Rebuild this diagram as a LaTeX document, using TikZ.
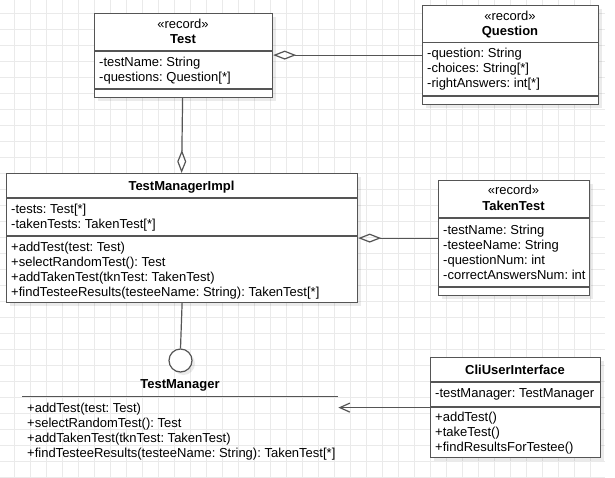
\documentclass[tikz,border=0pt]{standalone}
\usepackage{fontspec}
\setmainfont{Liberation Sans}
\usetikzlibrary{arrows.meta,shadows}
\frenchspacing

\definecolor{edgec}{RGB}{85,85,85}
\definecolor{gridc}{RGB}{234,234,234}

\tikzset{
  umlbox/.style={draw=edgec, line width=1.2pt, fill=white, inner sep=0pt, anchor=north west,
    drop shadow={shadow xshift=3.5pt, shadow yshift=-3.5pt, fill=black, opacity=0.08}},
  sepline/.style={draw=edgec, line width=1.2pt},
  member/.style={anchor=base west, inner sep=0pt, font=\frenchspacing\fontsize{13}{15}\selectfont},
  titletext/.style={anchor=base, inner sep=0pt, font=\bfseries\fontsize{13}{15}\selectfont},
  stereo/.style={anchor=base, inner sep=0pt, font=\fontsize{13}{15}\selectfont},
  conn/.style={draw=edgec, line width=1.2pt},
  agg/.style={conn, -{Diamond[open, length=23pt, width=9pt]}},
  dep/.style={conn, -{Straight Barb[length=10pt, width=9pt]}},
  gridline/.style={draw=gridc, line width=1pt}
}

\begin{document}
\begin{tikzpicture}[x=1pt, y=-1pt]
% background and bounding box
\fill[white] (0,0) rectangle (615,477);
\useasboundingbox (0,0) rectangle (615,477);
% grid
\foreach \gx in {14,30,...,590} \draw[gridline] (\gx,0) -- (\gx,477);
\foreach \gy in {13,29,...,477} \draw[gridline] (0,\gy) -- (605,\gy);

% ---------- Test ----------
\node[umlbox, minimum width=178pt, minimum height=84pt] (test) at (94,13) {};
\draw[sepline] (94,51) -- (272,51);
\draw[sepline] (94,89) -- (272,89);
\node[stereo] (teststereo) at (183,28) {«record»};
\node[titletext] (testtitle) at (183,43) {Test};
\foreach \t [count=\i] in {{-testName: String},{-questions: Question[*]}}
  \node[member] (testattr\i) at (99,{66.5+15*(\i-1)}) {\t};

% ---------- Question ----------
\node[umlbox, minimum width=176pt, minimum height=99pt] (question) at (422,5) {};
\draw[sepline] (422,42.5) -- (598,42.5);
\draw[sepline] (422,96) -- (598,96);
\node[stereo] (qstereo) at (510,20) {«record»};
\node[titletext] (qtitle) at (510,35.5) {Question};
\foreach \t [count=\i] in {{-question: String},{-choices: String[*]},{-rightAnswers: int[*]}}
  \node[member] (qattr\i) at (427,{57.5+15*(\i-1)}) {\t};

% ---------- TestManagerImpl ----------
\node[umlbox, minimum width=351pt, minimum height=129pt] (impl) at (6,173) {};
\draw[sepline] (6,198) -- (357,198);
\draw[sepline] (6,236) -- (357,236);
\node[titletext] (impltitle) at (181.5,190) {TestManagerImpl};
\foreach \t [count=\i] in {{-tests: Test[*]},{-takenTests: TakenTest[*]}}
  \node[member] (implattr\i) at (11,{213+15*(\i-1)}) {\t};
\foreach \t [count=\i] in {{+addTest(test: Test)},{+selectRandomTest(): Test},{+addTakenTest(tknTest: TakenTest)},{+findTesteeResults(testeeName: String): TakenTest[*]}}
  \node[member] (implop\i) at (11,{251.5+15*(\i-1)}) {\t};

% ---------- TakenTest ----------
\node[umlbox, minimum width=151pt, minimum height=115pt] (taken) at (438,180) {};
\draw[sepline] (438,218) -- (589,218);
\draw[sepline] (438,287) -- (589,287);
\node[stereo] (tkstereo) at (513.5,194.5) {«record»};
\node[titletext] (tktitle) at (513.5,210) {TakenTest};
\foreach \t [count=\i] in {{-testName: String},{-testeeName: String},{-questionNum: int},{-correctAnswersNum: int}}
  \node[member] (tkattr\i) at (443,{234+15*(\i-1)}) {\t};

% ---------- TestManager (interface) ----------
\node[inner sep=0pt, minimum width=316pt, minimum height=90pt, anchor=north west] (tm) at (22,372) {};
\node[circle, draw=edgec, line width=1.2pt, fill=white, minimum size=23pt, inner sep=0pt,
  drop shadow={shadow xshift=3pt, shadow yshift=-3pt, fill=black, opacity=0.08}] (tmcirc) at (180.5,360.5) {};
\node[titletext] (tmtitle) at (180,388.5) {TestManager};
\draw[sepline] (22,396.5) -- (338,396.5);
\foreach \t [count=\i] in {{+addTest(test: Test)},{+selectRandomTest(): Test},{+addTakenTest(tknTest: TakenTest)},{+findTesteeResults(testeeName: String): TakenTest[*]}}
  \node[member] (tmop\i) at (27,{412+15*(\i-1)}) {\t};

% ---------- CliUserInterface ----------
\node[umlbox, minimum width=170pt, minimum height=100pt] (cli) at (430,357) {};
\draw[sepline] (430,382) -- (600,382);
\draw[sepline] (430,407) -- (600,407);
\node[titletext] (clititle) at (515,374.5) {CliUserInterface};
\node[member] (cliattr1) at (435,397.5) {-testManager: TestManager};
\foreach \t [count=\i] in {{+addTest()},{+takeTest()},{+findResultsForTestee()}}
  \node[member] (cliop\i) at (435,{421.5+15*(\i-1)}) {\t};

% ---------- connectors ----------
\draw[agg] ([xshift=-1pt]test.south) -- ([xshift=-0.5pt]impl.north);
\draw[agg] (question.west) -- (question.west -| test.east);
\draw[agg] (taken.west) -- (taken.west -| impl.east);
\draw[conn] (impl.south) -- (tmcirc.north);
\draw[dep] (cli.west) -- (cli.west -| tm.east);
\end{tikzpicture}
\end{document}
